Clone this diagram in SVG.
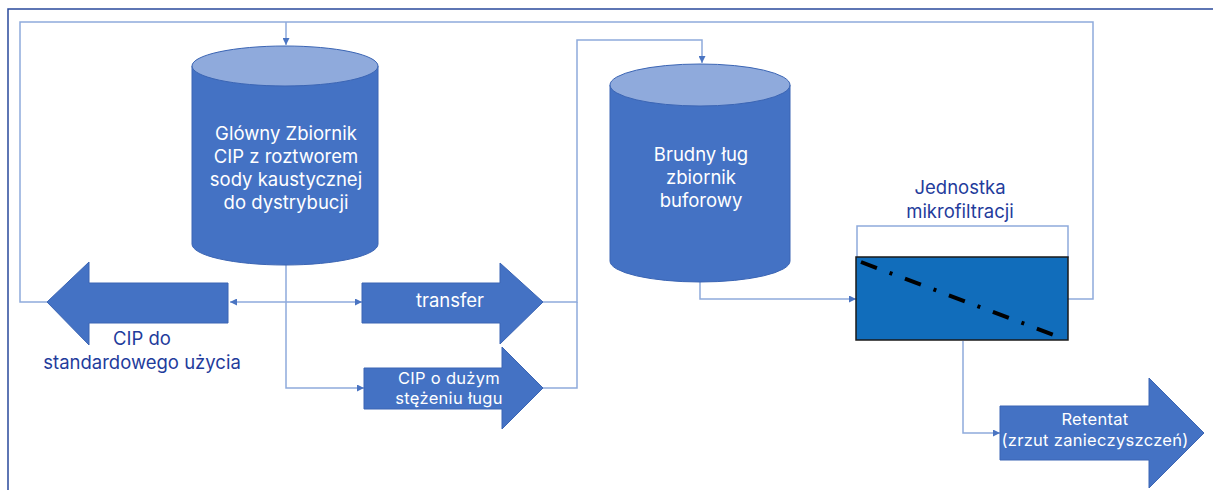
<svg xmlns="http://www.w3.org/2000/svg" width="1213" height="490" viewBox="0 0 1213 490">
<style>
.frame{fill:none;stroke:#2a4a9c;stroke-width:1.5}
.conn{fill:none;stroke:#8eaadc;stroke-width:1.5}
.body{fill:#4472c4;stroke:#3b65b4;stroke-width:1}
.top{fill:#8faadc;stroke:#3b65b4;stroke-width:1}
.arrow{fill:#4472c4;stroke:#3b65b4;stroke-width:1}
.wt{font-family:Inter,"Open Sans","Liberation Sans",sans-serif;font-size:18.5px;fill:#ffffff;text-anchor:middle}
.bt{font-family:Inter,"Open Sans","Liberation Sans",sans-serif;font-size:18.5px;fill:#1f3c9c;text-anchor:middle}
.sm{font-size:16.5px;letter-spacing:0.3px}
</style>
<defs>
<marker id="ah" viewBox="0 0 10 10" refX="10" refY="5" markerWidth="7" markerHeight="7" orient="auto-start-reverse" markerUnits="userSpaceOnUse">
<path d="M0,0 L10,5 L0,10 z" fill="#4a74c2"/>
</marker>
</defs>
<rect width="1213" height="490" fill="#ffffff"/>
<path class="frame" d="M8,490 L8,9 L1213,9"/>

<g id="connectors">
<path class="conn" d="M1068,299 L1093,299 L1093,22 L20,22 L20,302 L47,302"/>
<path class="conn" d="M286,22 L286,45" marker-end="url(#ah)"/>
<path class="conn" d="M230,302 L362,302" marker-start="url(#ah)" marker-end="url(#ah)"/>
<path class="conn" d="M286,265 L286,388 L364,388" marker-end="url(#ah)"/>
<path class="conn" d="M542,302 L577,302 L577,40 L702,40 L702,63" marker-end="url(#ah)"/>
<path class="conn" d="M543,388 L577,388 L577,302"/>
<path class="conn" d="M700,282 L700,299 L856,299" marker-end="url(#ah)"/>
<path class="conn" d="M963,341 L963,433 L1000,433" marker-end="url(#ah)"/>
</g>

<g id="main-tank">
<path class="body" d="M192,66 L192,244 A93,21 0 0 0 378,244 L378,66 Z"/>
<ellipse class="top" cx="285" cy="66" rx="93" ry="20"/>
<text class="wt" x="286" y="140">Glówny Zbiornik</text>
<text class="wt" x="286" y="163">CIP z roztworem</text>
<text class="wt" x="286" y="186">sody kaustycznej</text>
<text class="wt" x="286" y="209">do dystrybucji</text>
</g>

<g id="buffer-tank">
<path class="body" d="M610,85 L610,261 A90,21 0 0 0 790,261 L790,85 Z"/>
<ellipse class="top" cx="700" cy="85" rx="90" ry="21"/>
<text class="wt" x="701" y="161">Brudny ług</text>
<text class="wt" x="701" y="184">zbiornik</text>
<text class="wt" x="701" y="207">buforowy</text>
</g>

<g id="cip-standard">
<path class="arrow" d="M228,283 L89,283 L89,262 L47,302 L89,345 L89,323 L228,323 Z"/>
<text class="bt" x="142" y="345">CIP do</text>
<text class="bt" x="142" y="369">standardowego użycia</text>
</g>

<g id="transfer">
<path class="arrow" d="M362,283 L500,283 L500,263 L543,302 L500,344 L500,323 L362,323 Z"/>
<text class="wt" x="450" y="307">transfer</text>
</g>

<g id="cip-high">
<path class="arrow" d="M364,368 L502,368 L502,347 L543,388 L502,429 L502,409 L364,409 Z"/>
<text class="wt sm" x="449" y="384">CIP o dużym</text>
<text class="wt sm" x="449" y="404">stężeniu ługu</text>
</g>

<g id="microfiltration">
<text class="bt" x="960" y="194">Jednostka</text>
<text class="bt" x="960" y="218">mikrofiltracji</text>
<path class="conn" d="M857,258 L857,226 L1068,226 L1068,258"/>
<rect x="856" y="257" width="212" height="83" fill="#116dbb" stroke="#1a1a1a" stroke-width="1.5"/>
<line x1="861" y1="262" x2="1054" y2="335" stroke="#000" stroke-width="4" stroke-dasharray="17 13.5 3 13.5"/>
</g>

<g id="retentat">
<path class="arrow" d="M1000,406 L1149,406 L1149,378 L1204,433 L1149,488 L1149,460 L1000,460 Z"/>
<text class="wt sm" x="1095" y="425">Retentat</text>
<text class="wt sm" x="1095" y="446">(zrzut zanieczyszczeń)</text>
</g>
</svg>
